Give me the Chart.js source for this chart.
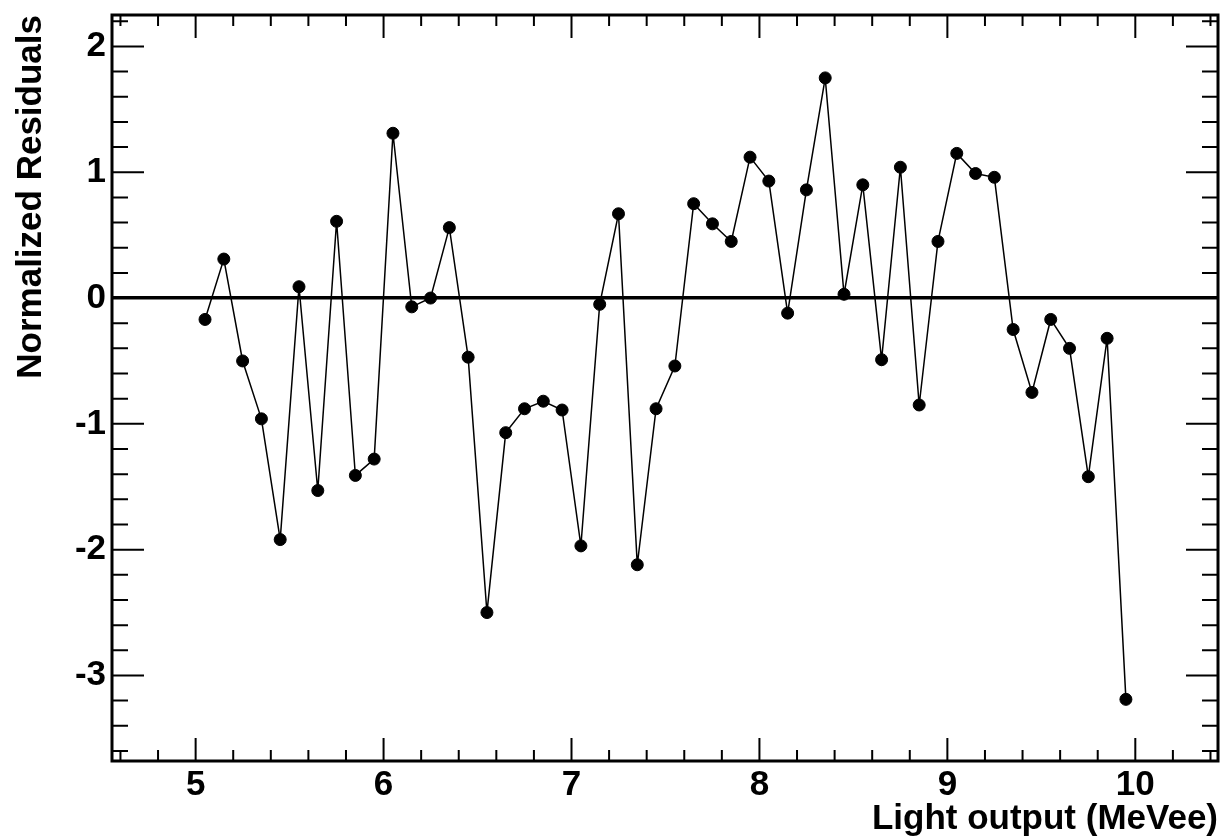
<!DOCTYPE html>
<html>
<head>
<meta charset="utf-8">
<title>Normalized Residuals</title>
<script src="https://cdn.jsdelivr.net/npm/chart.js@4.4.1/dist/chart.umd.min.js"></script>
<style>
    html, body { margin: 0; padding: 0; background: #ffffff; }
    canvas { display: block; }
</style>
</head>
<body>
<canvas id="grafico" width="1225" height="840"></canvas>
<script>
//Chart data
var lightOutput = [5.05, 5.15, 5.25, 5.35, 5.45, 5.55, 5.65, 5.75, 5.85, 5.95,
                   6.05, 6.15, 6.25, 6.35, 6.45, 6.55, 6.65, 6.75, 6.85, 6.95,
                   7.05, 7.15, 7.25, 7.35, 7.45, 7.55, 7.65, 7.75, 7.85, 7.95,
                   8.05, 8.15, 8.25, 8.35, 8.45, 8.55, 8.65, 8.75, 8.85, 8.95,
                   9.05, 9.15, 9.25, 9.35, 9.45, 9.55, 9.65, 9.75, 9.85, 9.95];
var residuals = [-0.17, 0.31, -0.50, -0.96, -1.92, 0.09, -1.53, 0.61, -1.41, -1.28,
                 1.31, -0.07, 0.00, 0.56, -0.47, -2.50, -1.07, -0.88, -0.82, -0.89,
                 -1.97, -0.05, 0.67, -2.12, -0.88, -0.54, 0.75, 0.59, 0.45, 1.12,
                 0.93, -0.12, 0.86, 1.75, 0.03, 0.90, -0.49, 1.04, -0.85, 0.45,
                 1.15, 0.99, 0.96, -0.25, -0.75, -0.17, -0.40, -1.42, -0.32, -3.19];
var xRange = [4.555, 10.44];
var yRange = [-3.68, 2.25];
var xTitle = 'Light output (MeVee)';
var yTitle = 'Normalized Residuals';

//Frame and inward ticks on the four sides, ROOT style
var marcoRoot = {
    id: 'marcoRoot',
    afterDatasetsDraw: function(chart) {
        var ctx = chart.ctx;
        var area = chart.chartArea;
        var sx = chart.scales.x;
        var sy = chart.scales.y;
        var k, p, len;
        ctx.save();
        ctx.strokeStyle = '#000';
        ctx.lineWidth = 2;
        ctx.beginPath();
        for (k = Math.ceil(sx.min * 5); k <= Math.floor(sx.max * 5); k++) {
            p = sx.getPixelForValue(k / 5);
            len = (k % 5 === 0) ? 23 : 11;
            ctx.moveTo(p, area.bottom);
            ctx.lineTo(p, area.bottom - len);
            ctx.moveTo(p, area.top);
            ctx.lineTo(p, area.top + len);
        }
        for (k = Math.ceil(sy.min * 5); k <= Math.floor(sy.max * 5); k++) {
            p = sy.getPixelForValue(k / 5);
            len = (k % 5 === 0) ? 32 : 16;
            ctx.moveTo(area.left, p);
            ctx.lineTo(area.left + len, p);
            ctx.moveTo(area.right, p);
            ctx.lineTo(area.right - len, p);
        }
        ctx.stroke();
        ctx.lineWidth = 3;
        ctx.strokeRect(area.left, area.top, area.right - area.left, area.bottom - area.top);
        ctx.restore();
    }
};

function graficoResiduos(canvas, x, y) {
    let puntos = [];
    for (i = 0; i < x.length; i++) {
        puntos.push({ x: x[i], y: y[i] });
    }

    Chart.defaults.font.family = "'Liberation Sans', Arial, Helvetica, sans-serif";
    Chart.defaults.color = '#000';

    var context = document.getElementById(canvas);
    var grafico = new Chart(context, {
        type: 'scatter',
        data: {
            datasets: [
                {
                    data: puntos,
                    showLine: true,
                    borderColor: '#000',
                    borderWidth: 1.5,
                    pointBackgroundColor: '#000',
                    pointBorderColor: '#000',
                    pointBorderWidth: 1,
                    pointRadius: 6,
                    tension: 0
                }
            ]
        },
        options: {
            responsive: false,
            animation: false,
            layout: { padding: { top: 15, right: 7, bottom: 0, left: 0 } },
            plugins: {
                legend: { display: false },
                tooltip: { enabled: false }
            },
            scales: {
                x: {
                    type: 'linear',
                    min: xRange[0],
                    max: xRange[1],
                    afterFit: function(scale) {
                        scale.height = 79;
                        scale.paddingLeft = 0;
                        scale.paddingRight = 0;
                    },
                    border: { display: false },
                    grid: { display: false, drawTicks: false },
                    ticks: {
                        stepSize: 1,
                        includeBounds: false,
                        padding: 3,
                        maxRotation: 0,
                        font: { size: 35, weight: 'bold' }
                    },
                    title: {
                        display: true,
                        text: xTitle,
                        align: 'end',
                        padding: 0,
                        font: { size: 35, weight: 'bold' }
                    }
                },
                y: {
                    type: 'linear',
                    min: yRange[0],
                    max: yRange[1],
                    afterFit: function(scale) {
                        scale.width = 112;
                        scale.paddingTop = 0;
                        scale.paddingBottom = 0;
                    },
                    border: { display: false },
                    grid: {
                        drawTicks: false,
                        color: function(c) { return c.tick && c.tick.value === 0 ? '#000' : 'rgba(0,0,0,0)'; },
                        lineWidth: function(c) { return c.tick && c.tick.value === 0 ? 3.5 : 0; }
                    },
                    ticks: {
                        stepSize: 1,
                        includeBounds: false,
                        padding: 6,
                        font: { size: 35, weight: 'bold' }
                    },
                    title: {
                        display: true,
                        text: yTitle,
                        align: 'end',
                        padding: { top: 10, bottom: 0 },
                        font: { size: 35, weight: 'bold' }
                    }
                }
            }
        },
        plugins: [marcoRoot]
    });
}

graficoResiduos('grafico', lightOutput, residuals);
</script>
</body>
</html>
